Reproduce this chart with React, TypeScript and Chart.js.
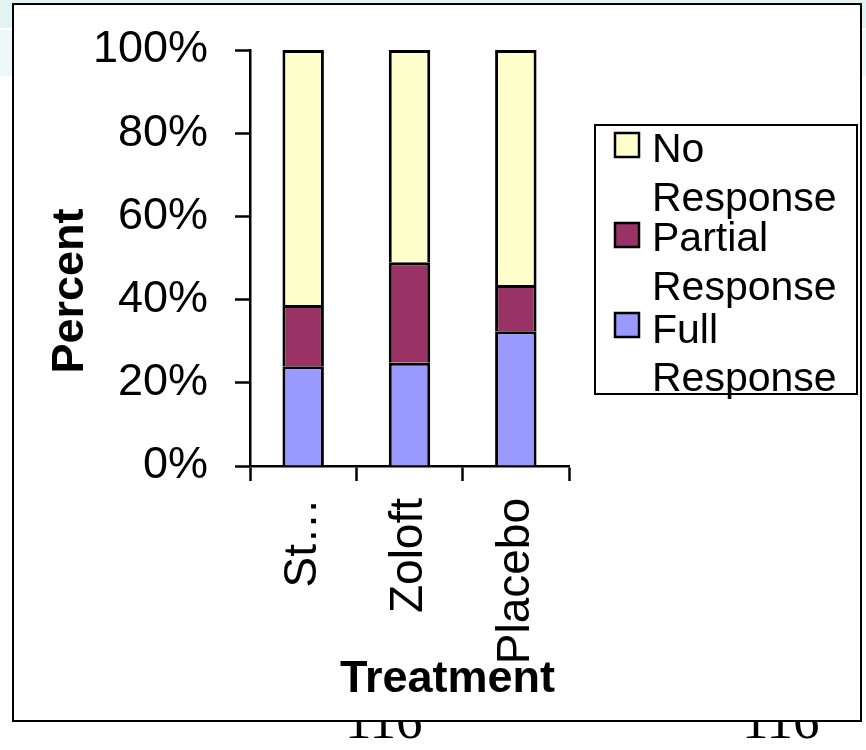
import React, { useEffect, useRef } from "react";
import { Chart, registerables } from "chart.js";

Chart.register(...registerables);

const categories = ["St…", "Zoloft", "Placebo"];
const fullResponse = [24.0, 24.8, 32.4];
const partialResponse = [14.7, 24.2, 11.1];
const noResponse = [61.3, 51.0, 56.5];
const seriesNames = ["Full Response", "Partial Response", "No Response"];
const seriesColors = ["#9999FF", "#993366", "#FFFFCC"];
const yTicks = [0, 20, 40, 60, 80, 100];
const yTitle = "Percent";
const xTitle = "Treatment";

const FONT = "'Liberation Sans', Arial, sans-serif";

const overlayPlugin = {
  id: "overlay",
  afterDraw(chart: any) {
    const ctx = chart.ctx as CanvasRenderingContext2D;
    const area = chart.chartArea;
    ctx.save();
    ctx.fillStyle = "#000";
    // Y title
    ctx.font = `bold 45px ${FONT}`;
    ctx.textAlign = "center";
    ctx.textBaseline = "alphabetic";
    ctx.save();
    ctx.translate(69, 286);
    ctx.rotate(-Math.PI / 2);
    ctx.fillText(yTitle, 0, 0);
    ctx.restore();
    // X title
    ctx.fillText(xTitle, (area.left + area.right) / 2 + 38, 687);

    // Legend
    const bx = 581, by = 120, bw = 262, bh = 269;
    ctx.lineWidth = 2;
    ctx.strokeStyle = "#000";
    ctx.strokeRect(bx, by, bw, bh);
    const ds = chart.data.datasets.slice().reverse();
    const markerTops = [128, 218, 308];
    const baselines = [[157, 206], [246, 295], [338, 386]];
    ctx.font = `41px ${FONT}`;
    ctx.textAlign = "left";
    ctx.lineWidth = 2.5;
    ds.forEach((d: any, i: number) => {
      ctx.fillStyle = d.backgroundColor;
      ctx.fillRect(601, markerTops[i], 24, 24);
      ctx.strokeRect(601, markerTops[i], 24, 24);
      ctx.fillStyle = "#000";
      const words = String(d.label).split(" ");
      ctx.fillText(words[0], 638, baselines[i][0]);
      ctx.fillText(words.slice(1).join(" "), 638, baselines[i][1]);
    });
    ctx.restore();
  },
};

export default function App() {
  const ref = useRef<HTMLCanvasElement | null>(null);
  useEffect(() => {
    if (!ref.current) return;
    const values = [fullResponse, partialResponse, noResponse];
    const chart = new Chart(ref.current, {
      type: "bar",
      data: {
        labels: categories,
        datasets: values.map((v, i) => ({
          label: seriesNames[i],
          data: v,
          backgroundColor: seriesColors[i],
          borderColor: "#000",
          borderWidth: 3,
          categoryPercentage: 1,
          barPercentage: 0.39,
        })),
      },
      options: {
        responsive: false,
        animation: false,
        devicePixelRatio: 1,
        layout: { padding: { top: 45, right: 291, left: 0, bottom: 0 } },
        plugins: {
          legend: { display: false },
          tooltip: { enabled: false },
        },
        scales: {
          x: {
            stacked: true,
            grid: {
              drawOnChartArea: false,
              drawTicks: true,
              tickLength: 15,
              tickWidth: 2.5,
              tickColor: "#000",
            },
            border: { display: true, color: "#000", width: 2.5 },
            ticks: {
              autoSkip: false,
              minRotation: 90,
              maxRotation: 90,
              padding: 17,
              color: "#000",
              font: { family: FONT, size: 46 },
            },
            afterFit(scale: any) {
              scale.height = 254;
              scale.paddingLeft = 0;
              scale.paddingRight = 0;
            },
          },
          y: {
            stacked: true,
            min: 0,
            max: 100,
            afterBuildTicks(scale: any) {
              scale.ticks = yTicks.map((v) => ({ value: v }));
            },
            grid: {
              drawOnChartArea: false,
              drawTicks: true,
              tickLength: 15,
              tickWidth: 2.5,
              tickColor: "#000",
            },
            border: { display: true, color: "#000", width: 2.5 },
            ticks: {
              padding: 27,
              color: "#000",
              font: { family: FONT, size: 45 },
              callback: (v: any) => `${v}%`,
            },
            afterFit(scale: any) {
              scale.width = 236;
              scale.paddingTop = 0;
              scale.paddingBottom = 0;
            },
          },
        },
      },
      plugins: [overlayPlugin],
    });
    return () => chart.destroy();
  }, []);

  return (
    <div style={{ position: "absolute", left: 0, top: 0, width: 866, height: 750, background: "#fff", overflow: "hidden" }}>
      <div style={{ position: "absolute", left: 0, top: 0, width: 866, height: 28, background: "#E3F3F3" }} />
      <div style={{ position: "absolute", left: 0, top: 30, width: 866, height: 46, background: "#EEF8F8" }} />
      <div style={{ position: "absolute", left: 345, top: 690, fontFamily: "'Liberation Serif', 'Times New Roman', serif", fontSize: 53, lineHeight: "60px", color: "#000" }}>116</div>
      <div style={{ position: "absolute", left: 742, top: 690, fontFamily: "'Liberation Serif', 'Times New Roman', serif", fontSize: 53, lineHeight: "60px", color: "#000" }}>116</div>
      <div style={{ position: "absolute", left: 12, top: 3, width: 846, height: 715, border: "2px solid #000", background: "#fff" }}>
        <canvas ref={ref} width={846} height={715} style={{ display: "block" }} />
      </div>
    </div>
  );
}
